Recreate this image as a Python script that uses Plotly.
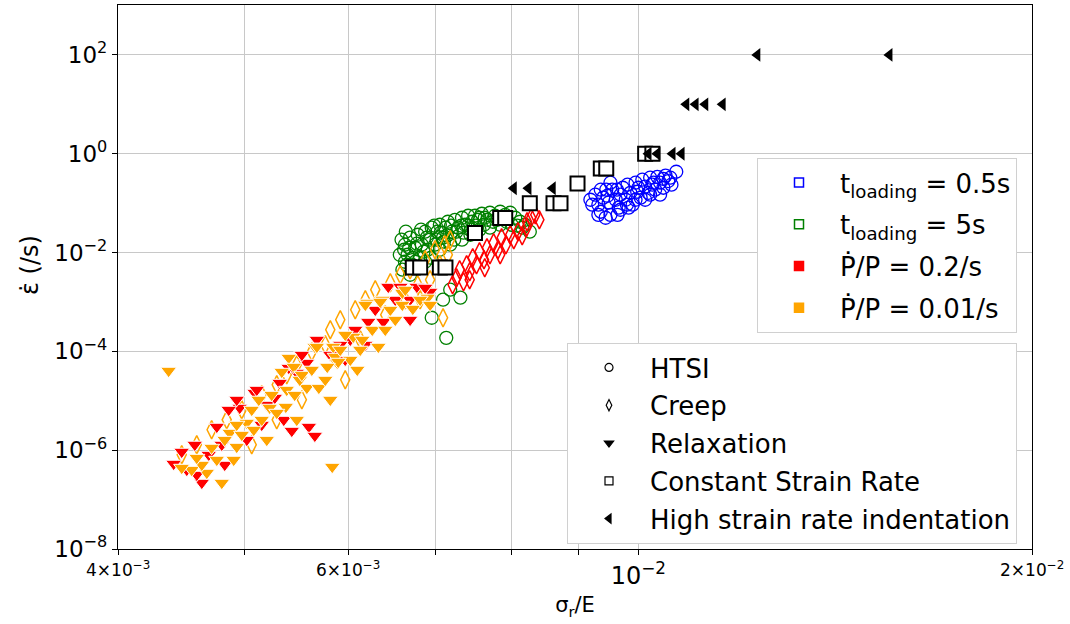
import math
import plotly.graph_objects as go

# ---------------- data ----------------
# HTSI, t_loading = 0.5 s
htsi_fast_x = [0.00919, 0.00927, 0.00932, 0.00936, 0.0094, 0.00945, 0.00949, 0.00952, 0.00955, 0.00961,
               0.00966, 0.00969, 0.00973, 0.00978, 0.00981, 0.00986, 0.0099, 0.00995, 0.00998, 0.01004,
               0.01007, 0.01012, 0.01018, 0.01021, 0.01025, 0.0103, 0.01034, 0.01039, 0.01045, 0.01049,
               0.01054, 0.0106, 0.01069, 0.00936, 0.00952, 0.00944, 0.00964, 0.00983, 0.01012, 0.01039,
               0.00922, 0.00969, 0.00995, 0.01021, 0.00932, 0.00947, 0.00963, 0.0098, 0.01, 0.01027,
               0.01045, 0.01058]
htsi_fast_y = [0.117, 0.148, 0.093, 0.067, 0.129, 0.187, 0.102, 0.058, 0.187, 0.117,
               0.081, 0.148, 0.205, 0.117, 0.236, 0.162, 0.093, 0.259, 0.17, 0.129,
               0.298, 0.215, 0.162, 0.327, 0.236, 0.187, 0.34, 0.259, 0.205, 0.36,
               0.28, 0.236, 0.432, 0.187, 0.259, 0.0506, 0.058, 0.081, 0.117, 0.148,
               0.093, 0.0735, 0.117, 0.148, 0.058, 0.141, 0.187, 0.093, 0.205, 0.259,
               0.31, 0.327]

# HTSI, t_loading = 5 s
htsi_slow_x = [0.00663, 0.00666, 0.00663, 0.00669, 0.00675, 0.00671, 0.00678, 0.00681, 0.00683, 0.00687,
               0.0069, 0.00693, 0.00695, 0.00699, 0.00702, 0.00705, 0.00709, 0.00712, 0.00715, 0.0072,
               0.00724, 0.00728, 0.00733, 0.00737, 0.00741, 0.00746, 0.0075, 0.00754, 0.00759, 0.00763,
               0.0077, 0.00777, 0.00784, 0.00791, 0.00798, 0.00805, 0.00812, 0.00819, 0.00826,
               0.00657, 0.0066, 0.00669, 0.00675, 0.00687, 0.00705, 0.00718, 0.00733, 0.00744, 0.00756,
               0.0077, 0.00784, 0.00718, 0.00731, 0.00709, 0.00695, 0.00713,
               0.00659, 0.00664, 0.00668, 0.00672, 0.00677, 0.00682, 0.00685, 0.00689, 0.00694, 0.00698,
               0.00701, 0.00706, 0.0071, 0.00714, 0.00719, 0.00723, 0.00726, 0.00732, 0.00735, 0.00741,
               0.00745, 0.00751, 0.00756, 0.00762, 0.00767, 0.00774, 0.0078, 0.00786, 0.00793, 0.008,
               0.00808, 0.00815, 0.00662, 0.00665]
htsi_slow_y = [0.0144, 0.00902, 0.00651, 0.02, 0.0125, 0.0057, 0.0229, 0.00785, 0.0144, 0.0264,
               0.0114, 0.0182, 0.0318, 0.0144, 0.0264, 0.0365, 0.02, 0.0318, 0.042, 0.0264,
               0.046, 0.0318, 0.0506, 0.0365, 0.0556, 0.042, 0.0556, 0.046, 0.061, 0.0506,
               0.0639, 0.0556, 0.067, 0.058, 0.0639, 0.0506, 0.042, 0.0365, 0.0264,
               0.00902, 0.00449, 0.00355, 0.00651, 0.00651, 0.0114, 0.0144, 0.0182, 0.0229, 0.029,
               0.0318, 0.0365, 0.00177, 0.00122, 0.00111, 0.000479, 0.000188,
               0.0182, 0.0264, 0.0125, 0.00785, 0.0151, 0.029, 0.0104, 0.02, 0.00785, 0.0349,
               0.0182, 0.0252, 0.0166, 0.0219, 0.0349, 0.0182, 0.0264, 0.0349, 0.0252, 0.0349,
               0.029, 0.0349, 0.0506, 0.0365, 0.0461, 0.042, 0.0461, 0.0483, 0.042, 0.0365,
               0.0349, 0.0318, 0.0114, 0.00566]

# Creep, dP/P = 0.2/s
creep_fast_x = [0.00721, 0.00726, 0.0073, 0.00735, 0.00739, 0.00743, 0.00747, 0.00752, 0.00756, 0.00762,
                0.00766, 0.0077, 0.00775, 0.00781, 0.00786, 0.00792, 0.00798, 0.00803, 0.00809, 0.00815,
                0.00822, 0.00828, 0.00834, 0.0084, 0.00821, 0.00784, 0.00763, 0.00743]
creep_fast_y = [0.00223, 0.00309, 0.00449, 0.00256, 0.00566, 0.00409, 0.00785, 0.00566, 0.0104, 0.00714,
                0.0125, 0.00902, 0.0158, 0.0114, 0.02, 0.0144, 0.0229, 0.0182, 0.0264, 0.0219,
                0.042, 0.0506, 0.0582, 0.0461, 0.0318, 0.00902, 0.00492, 0.00281]

# Creep, dP/P = 0.01/s
creep_slow_x = [0.004475, 0.004595, 0.004717, 0.004844, 0.004974, 0.005062, 0.005152, 0.00529, 0.005384, 0.00548,
                0.005529, 0.005627, 0.005762, 0.005813, 0.005916, 0.005968, 0.006074, 0.006183, 0.006292, 0.006404,
                0.006461, 0.006576, 0.00669, 0.00678, 0.00687, 0.00693, 0.00699, 0.00705, 0.00709, 0.00711,
                0.00715, 0.00718, 0.00681, 0.006634, 0.006128, 0.00529]
creep_slow_y = [8.07e-7, 1.29e-6, 2.59e-6, 4.12e-6, 6.58e-6, 1.29e-6, 1.32e-5, 2.11e-5, 3.36e-5, 5.36e-5,
                1.05e-5, 9.8e-5, 1.36e-4, 2.74e-4, 4.36e-4, 2.66e-5, 6.95e-4, 1.11e-3, 1.77e-3, 5.51e-4,
                2.45e-3, 3.55e-3, 4.49e-3, 2.23e-3, 7.14e-3, 2.81e-3, 0.0114, 5.66e-3, 4.79e-4, 0.0144,
                9.02e-3, 0.0182, 1.11e-3, 1.11e-3, 1.72e-4, 4.12e-6]

# Relaxation, dP/P = 0.2/s
relax_fast_x = [0.004412, 0.004579, 0.004636, 0.00476, 0.004956, 0.005089, 0.005198, 0.005318, 0.005403, 0.005432,
                0.005598, 0.005657, 0.00548, 0.006438, 0.00677, 0.006576, 0.006215, 0.006382, 0.005107, 0.004861,
                0.006021, 0.005813, 0.004515, 0.004693, 0.005916, 0.006074, 0.00669, 0.00693, 0.005578,
                0.004475, 0.004595, 0.004802, 0.005018, 0.005152, 0.005272, 0.005356, 0.005529, 0.005677, 0.005968,
                0.006183, 0.006292, 0.006518, 0.00669, 0.00687, 0.00493, 0.004827]
relax_fast_y = [5.31e-7, 1.29e-6, 2.19e-7, 2.98e-6, 7.22e-6, 1.45e-5, 8.3e-6, 2.31e-5, 4.65e-5, 2.47e-6,
                2.98e-6, 1.96e-6, 3.69e-5, 2.03e-3, 2.03e-3, 2.03e-3, 3.97e-4, 3.97e-4, 1.67e-5, 6.58e-6,
                1.72e-4, 8.53e-5, 4.0e-7, 8.07e-7, 1.36e-4, 2.74e-4, 1.11e-3, 1.61e-3, 5.87e-5,
                9.3e-7, 3.18e-7, 1.29e-6, 1.62e-6, 3.27e-6, 1.15e-5, 4.12e-6, 8.53e-5, 1.72e-4, 6.76e-5,
                1.36e-4, 6.95e-4, 1.11e-3, 4.36e-4, 1.94e-3, 1.05e-5, 5.07e-7]

# Relaxation, dP/P = 0.01/s
relax_slow_x = [0.004373, 0.005833, 0.004677, 0.004802, 0.00476, 0.00493, 0.00487, 0.005018, 0.005152, 0.005225,
                0.005375, 0.005403, 0.005578, 0.005697, 0.005657, 0.005885, 0.006096, 0.006204, 0.00637, 0.006599,
                0.006722, 0.006021, 0.005813, 0.005509, 0.00529, 0.00508, 0.004904, 0.005451, 0.006053, 0.006183,
                0.006461, 0.00615, 0.006326, 0.005864, 0.005895, 0.006348, 0.006599, 0.005677, 0.005782, 0.005843,
                0.005384, 0.004554, 0.004636, 0.0069,
                0.004475, 0.004595, 0.004717, 0.004827, 0.004974, 0.005062, 0.005125, 0.005243, 0.005337, 0.00546,
                0.005529, 0.005627, 0.005762, 0.005916, 0.005968, 0.006128, 0.006259, 0.006404, 0.006518, 0.006634,
                0.00681, 0.00693, 0.005198, 0.00548, 0.00493]
relax_slow_y = [4.05e-5, 4.61e-7, 3.49e-7, 2.19e-7, 6.4e-7, 1.17e-6, 2.25e-6, 3.59e-6, 4.12e-6, 7.22e-6,
                7.57e-6, 7.42e-5, 1.83e-5, 1.83e-5, 1.24e-4, 5.87e-5, 4.25e-5, 9.64e-4, 1.11e-3, 8.78e-4,
                7.28e-4, 6.76e-5, 1.05e-5, 2.66e-5, 5.71e-6, 2.59e-6, 6.4e-7, 4.88e-5, 1.98e-4, 8.78e-4,
                6.95e-4, 1.72e-4, 1.24e-4, 7.78e-5, 6.16e-5, 1.01e-3, 1.54e-3, 1.24e-4, 4.88e-5, 1.24e-4,
                1.67e-5, 4.0e-7, 5.07e-7, 1.22e-3,
                4.4e-7, 7.0e-7, 1.12e-6, 1.62e-6, 2.05e-6, 6.58e-6, 1.05e-5, 1.32e-5, 3.86e-5, 1.32e-5,
                3.36e-5, 4.25e-5, 2.66e-5, 1.08e-4, 2.17e-4, 1.08e-4, 2.74e-4, 2.74e-4, 4.36e-4, 1.77e-3,
                1.11e-3, 8.78e-4, 1.62e-6, 4.12e-6, 3.27e-6]

# Constant strain rate
csr_x = [0.006722, 0.00681, 0.00705, 0.00712, 0.0075, 0.00784, 0.00791, 0.00826, 0.008612, 0.008719,
         0.008984, 0.00936, 0.00945, 0.01012, 0.01025]
csr_y = [0.005, 0.005, 0.005, 0.005, 0.025, 0.05, 0.05, 0.1, 0.1, 0.1,
         0.25, 0.5, 0.5, 1.0, 1.0]

# High strain rate indentation
hsr_x = [0.00803, 0.00824, 0.0086, 0.01018, 0.01034, 0.01062, 0.01079, 0.01088, 0.01106, 0.01125,
         0.0116, 0.01233, 0.01556]
hsr_y = [0.2, 0.2, 0.2, 1.0, 1.0, 1.0, 1.0, 10, 10, 10,
         10, 100, 100]

# legend labels
condition_labels = ["t<sub>loading</sub> = 0.5s", "t<sub>loading</sub> = 5s",
                    "\u1e56/P = 0.2/s", "\u1e56/P = 0.01/s"]
test_labels = ["HTSI", "Creep", "Relaxation", "Constant Strain Rate", "High strain rate indentation"]

# axis ticks
x_tickvals = [0.004, 0.005, 0.006, 0.007, 0.008, 0.009, 0.01, 0.02]
x_ticktext = ['', '', '', '', '', '', '10<sup>\u22122</sup>', '']
x_minor_labels = [(0.004, '4\u00d710<sup>\u22123</sup>'), (0.006, '6\u00d710<sup>\u22123</sup>'),
                  (0.02, '2\u00d710<sup>\u22122</sup>')]
y_tickvals = [1e-8, 1e-6, 1e-4, 1e-2, 1e0, 1e2]
y_ticktext = ['10<sup>\u22128</sup>', '10<sup>\u22126</sup>', '10<sup>\u22124</sup>',
              '10<sup>\u22122</sup>', '10<sup>0</sup>', '10<sup>2</sup>']
x_title = '\u03c3<sub>r</sub>/E'
y_title = '\u03b5\u0307 (/s)'

BLUE, GREEN, RED, ORANGE = '#0000ff', '#008000', '#ff0000', '#ffa500'
FONT = 'DejaVu Sans'

fig = go.Figure()

# HTSI circles
for xs, ys, c in [(htsi_slow_x, htsi_slow_y, GREEN), (htsi_fast_x, htsi_fast_y, BLUE)]:
    fig.add_trace(go.Scatter(x=xs, y=ys, mode='markers', showlegend=False, hoverinfo='skip',
                             marker=dict(symbol='circle-open', size=13, color=c, line=dict(width=1.3))))
# Creep diamonds
for xs, ys, c in [(creep_slow_x, creep_slow_y, ORANGE), (creep_fast_x, creep_fast_y, RED)]:
    fig.add_trace(go.Scatter(x=xs, y=ys, mode='markers', showlegend=False, hoverinfo='skip',
                             marker=dict(symbol='diamond-tall-open', size=13, color=c, line=dict(width=1.5))))
# Relaxation triangles
for xs, ys, c in [(relax_fast_x, relax_fast_y, RED), (relax_slow_x, relax_slow_y, ORANGE)]:
    fig.add_trace(go.Scatter(x=xs, y=ys, mode='markers', showlegend=False, hoverinfo='skip',
                             marker=dict(symbol='triangle-down', size=14, color=c,
                                         line=dict(width=1, color='white'))))
# Constant strain rate squares
fig.add_trace(go.Scatter(x=csr_x, y=csr_y, mode='markers', showlegend=False, hoverinfo='skip',
                         marker=dict(symbol='square', size=14, color='white',
                                     line=dict(width=2, color='black'))))
# High strain rate indentation
fig.add_trace(go.Scatter(x=hsr_x, y=hsr_y, mode='markers', showlegend=False, hoverinfo='skip',
                         marker=dict(symbol='triangle-left', size=12, color='black')))

# legend 1 (loading condition)
leg1_styles = [('square-open', BLUE), ('square-open', GREEN), ('square', RED), ('square', ORANGE)]
for i, (lab, (sym, c)) in enumerate(zip(condition_labels, leg1_styles)):
    fig.add_trace(go.Scatter(x=[None], y=[None], mode='markers', name=lab, legend='legend',
                             legendgroup='a%d' % i,
                             marker=dict(symbol=sym, size=9, color=c, line=dict(width=1.5, color=c))))
# legend 2 (test type)
leg2_syms = ['circle-open', 'diamond-tall-open', 'triangle-down', 'square-open', 'triangle-left']
for i, (lab, sym) in enumerate(zip(test_labels, leg2_syms)):
    fig.add_trace(go.Scatter(x=[None], y=[None], mode='markers', name=lab, legend='legend2',
                             legendgroup='b%d' % i,
                             marker=dict(symbol=sym, size=8, color='black', line=dict(width=1.2, color='black'))))

legend_common = dict(bgcolor='white', bordercolor='#d0d0d0', borderwidth=1,
                     font=dict(family=FONT, size=26, color='black'),
                     traceorder='grouped', itemwidth=72, xanchor='left', yanchor='top')

annotations = [dict(text=y_title, textangle=-90, xref='paper', yref='paper',
                    x=(30 - 118) / 914, y=1 - (265 - 5) / 544, xanchor='center', yanchor='middle',
                    showarrow=False, font=dict(family=FONT, size=24, color='black'))]
for xv, txt in x_minor_labels:
    annotations.append(dict(text=txt, xref='x', yref='paper', x=math.log10(xv), y=0,
                            xanchor='center', yanchor='top', yshift=-7, showarrow=False,
                            font=dict(family=FONT, size=17, color='black')))

fig.update_layout(
    width=1070, height=624,
    margin=dict(l=118, r=38, t=5, b=75),
    paper_bgcolor='white', plot_bgcolor='white',
    font=dict(family=FONT, color='black'),
    legend=dict(x=(757 - 118) / 914, y=1 - (158 - 5) / 544, tracegroupgap=5, **legend_common),
    legend2=dict(x=(567 - 118) / 914, y=1 - (343 - 5) / 544, tracegroupgap=1, **legend_common),
    xaxis=dict(type='log', range=[math.log10(0.004), math.log10(0.02)],
               tickmode='array', tickvals=x_tickvals, ticktext=x_ticktext,
               tickfont=dict(family=FONT, size=24), ticks='outside', ticklen=5, tickcolor='black',
               showgrid=True, gridcolor='#c8c8c8', gridwidth=1, zeroline=False,
               showline=True, mirror=True, linecolor='black', linewidth=1.2,
               title=dict(text=x_title, font=dict(family=FONT, size=21), standoff=8)),
    yaxis=dict(type='log', range=[-8, 3.01],
               tickmode='array', tickvals=y_tickvals, ticktext=y_ticktext,
               tickfont=dict(family=FONT, size=23), ticks='outside', ticklen=5, tickcolor='black',
               showgrid=True, gridcolor='#c8c8c8', gridwidth=1, zeroline=False,
               showline=True, mirror=True, linecolor='black', linewidth=1.2),
    annotations=annotations,
)

fig.write_html('out.html', config={'displayModeBar': False},
               post_script="document.body.style.margin='0px';")
